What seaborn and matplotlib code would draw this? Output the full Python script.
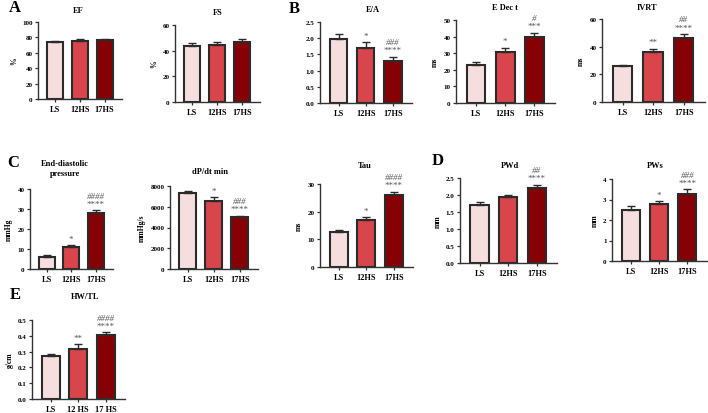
import numpy as np
import pandas as pd
import matplotlib
matplotlib.use("Agg")
import matplotlib.pyplot as plt
import seaborn as sns

# groups and colours
groups = ["LS", "12HS", "17HS"]
groups_e = ["LS", "12 HS", "17 HS"]
colors = ["#f6dede", "#d8454a", "#870005"]

# values (mean, sem)
ef_mean = [74.0, 75.5, 76.0]
ef_sem = [1.5, 2.5, 2.0]
fs_mean = [44.0, 44.5, 47.0]
fs_sem = [2.0, 2.5, 2.2]
ea_mean = [1.98, 1.70, 1.30]
ea_sem = [0.14, 0.17, 0.13]
edt_mean = [23.0, 31.0, 39.8]
edt_sem = [2.0, 2.4, 2.6]
ivrt_mean = [26.0, 36.0, 46.0]
ivrt_sem = [1.0, 2.4, 3.0]
edp_mean = [6.0, 11.0, 28.0]
edp_sem = [1.2, 0.8, 1.5]
dpdt_mean = [7350, 6600, 5000]
dpdt_sem = [200, 300, 150]
tau_mean = [12.5, 17.0, 26.0]
tau_sem = [0.8, 1.0, 1.2]
pwd_mean = [1.72, 1.93, 2.22]
pwd_sem = [0.07, 0.06, 0.08]
pws_mean = [2.50, 2.77, 3.27]
pws_sem = [0.17, 0.14, 0.22]
hw_mean = [0.270, 0.315, 0.405]
hw_sem = [0.012, 0.030, 0.020]

W, H = 708, 414
fig = plt.figure(figsize=(W / 100, H / 100), dpi=100)
plt.rcParams["font.family"] = ["Liberation Serif", "DejaVu Serif"]

def px_axes(l, t, r, b):
    return fig.add_axes([l / W, 1 - b / H, (r - l) / W, (b - t) / H])

def panel(box, title, tpos, ylabel, means, sems, ymax, ystep, fmt,
          stars=("", "", ""), hashes=("", "", ""), labels=groups):
    ax = px_axes(*box)
    df = pd.DataFrame({"group": labels, "value": means})
    sns.barplot(data=df, x="group", y="value", hue="group", palette=colors,
                saturation=1, width=0.64, edgecolor="#2b2b2b", linewidth=1.5,
                legend=False, ax=ax)
    ax.errorbar(range(3), means, yerr=[np.zeros(3), sems], fmt="none",
                ecolor="#2b2b2b", elinewidth=1.0, capsize=3, capthick=1.0)
    ax.set_xlim(-0.68, 2.7)
    ax.set_ylim(0, ymax)
    ticks = np.arange(0, ymax + ystep / 2, ystep)
    ax.set_yticks(ticks)
    ax.set_yticklabels([fmt.format(v) for v in ticks])
    ax.set_xlabel("")
    ax.set_ylabel(ylabel, fontsize=5.5, fontweight="bold", labelpad=3)
    sns.despine(ax=ax)
    for s in ["left", "bottom"]:
        ax.spines[s].set_linewidth(1.0)
        ax.spines[s].set_color("#333333")
    ax.tick_params(axis="both", direction="out", length=2.5, width=0.9,
                   color="#333333", labelsize=5, pad=1.5)
    ax.tick_params(axis="x", labelsize=6, pad=2)
    for lab in ax.get_xticklabels() + ax.get_yticklabels():
        lab.set_fontweight("bold")
    off = ymax * 0.03
    for i in range(3):
        top = means[i] + sems[i]
        if stars[i]:
            ax.text(i, top + off, stars[i], ha="center", va="bottom",
                    fontsize=6.5, color="#555555")
        if hashes[i]:
            ax.text(i, top + off + ymax * 0.1, hashes[i], ha="center",
                    va="bottom", fontsize=6.5, color="#555555", style="italic")
    fig.text(tpos[0] / W, 1 - tpos[1] / H, title, ha="center", va="center",
             fontsize=6, fontweight="bold", linespacing=1.3)
    return ax

panel((38, 23, 122, 100), "EF", (78, 11), "%", ef_mean, ef_sem, 100, 20, "{:.0f}")
panel((175, 26, 260, 103), "FS", (218, 13), "%", fs_mean, fs_sem, 60, 20, "{:.0f}")
panel((320, 23, 412, 104), "E/A", (373, 10), "", ea_mean, ea_sem, 2.5, 0.5, "{:.1f}",
      stars=("", "*", "****"), hashes=("", "", "###"))
panel((456, 21, 555, 104), "E Dec t", (505, 8), "ms", edt_mean, edt_sem, 50, 10, "{:.0f}",
      stars=("", "*", "***"), hashes=("", "", "#"))
panel((602, 20, 705, 103), "IVRT", (647, 8), "ms", ivrt_mean, ivrt_sem, 60, 20, "{:.0f}",
      stars=("", "**", "****"), hashes=("", "", "##"))
panel((30, 190, 113, 270), "End-diastolic\npressure", (65, 169), "mmHg", edp_mean, edp_sem,
      40, 10, "{:.0f}", stars=("", "*", "****"), hashes=("", "", "####"))
panel((170, 187, 258, 270), "dP/dt min", (210, 172), "mmHg/s", dpdt_mean, dpdt_sem,
      8000, 2000, "{:.0f}", stars=("", "*", "****"), hashes=("", "", "###"))
panel((320, 185, 413, 268), "Tau", (365, 166), "ms", tau_mean, tau_sem, 30, 10, "{:.0f}",
      stars=("", "*", "****"), hashes=("", "", "####"))
panel((460, 179, 557, 264), "PWd", (510, 166), "mm", pwd_mean, pwd_sem, 2.5, 0.5, "{:.1f}",
      stars=("", "", "****"), hashes=("", "", "##"))
panel((612, 180, 707, 262), "PWs", (655, 166), "mm", pws_mean, pws_sem, 4, 1, "{:.0f}",
      stars=("", "*", "****"), hashes=("", "", "###"))
panel((32, 321, 125, 400), "HW/TL", (85, 297), "g/cm", hw_mean, hw_sem, 0.5, 0.1, "{:.1f}",
      stars=("", "**", "****"), hashes=("", "", "####"), labels=groups_e)

for letter, (x, y) in {"A": (15, 8), "B": (294, 9), "C": (13, 163),
                       "D": (438, 161), "E": (15, 295)}.items():
    fig.text(x / W, 1 - y / H, letter, ha="center", va="center",
             fontsize=12, fontweight="bold")

fig.savefig("out.png", dpi=100)
